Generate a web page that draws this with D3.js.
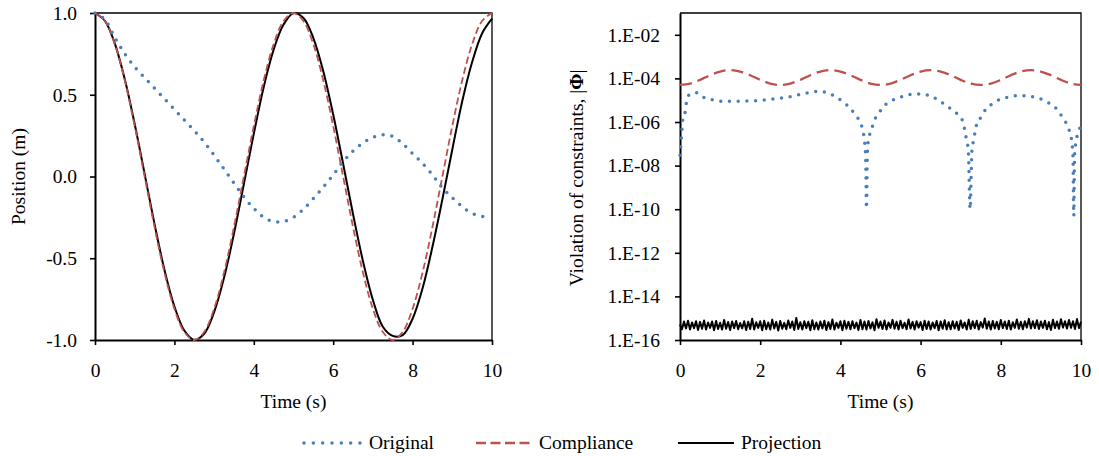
<!DOCTYPE html>
<html>
<head>
<meta charset="utf-8">
<script src="https://cdn.jsdelivr.net/npm/d3@7"></script>
<style>
  body { margin: 0; background: #fff; }
</style>
</head>
<body>
<script>
// ---- data ----
// left panel: position (m) vs time (s)
const tGrid = [0,0.25,0.5,0.75,1,1.25,1.5,1.75,2,2.25,2.5,2.75,3,3.25,3.5,3.75,4,4.25,4.5,4.75,5,
  5.25,5.5,5.75,6,6.25,6.5,6.75,7,7.25,7.5,7.75,8,8.25,8.5,8.75,9,9.25,9.5,9.75,10];

const tOrigPos = [0,0.25,0.5,0.75,1,1.25,1.5,1.75,2,2.25,2.5,2.75,3,3.25,3.5,3.75,4,4.25,4.5,4.75,5,
  5.25,5.5,5.75,6,6.25,6.5,6.75,7,7.25,7.5,7.75,8,8.25,8.5,8.75,9,9.25,9.5,9.75,9.85];
const origPos = [1.0,0.96,0.85,0.75,0.67,0.605,0.54,0.475,0.41,0.345,0.28,0.21,0.13,0.045,-0.04,-0.125,
  -0.195,-0.25,-0.275,-0.275,-0.25,-0.2,-0.135,-0.065,0.01,0.09,0.155,0.205,0.24,0.255,0.245,0.2,0.14,
  0.08,0.01,-0.07,-0.13,-0.185,-0.225,-0.243,-0.248];

const compPos = [1,0.951,0.809,0.588,0.309,0,-0.309,-0.588,-0.809,-0.951,-1,-0.951,-0.809,-0.588,-0.309,0,
  0.309,0.588,0.809,0.951,1,0.951,0.809,0.588,0.309,0,-0.309,-0.588,-0.809,-0.951,-1,-0.951,-0.809,
  -0.588,-0.309,0,0.309,0.588,0.809,0.951,1];

const projPos = [1,0.952,0.813,0.595,0.321,0.016,-0.291,-0.571,-0.794,-0.942,-0.999,-0.962,-0.83,-0.62,
  -0.35,-0.046,0.262,0.548,0.776,0.93,0.999,0.969,0.847,0.644,0.379,0.078,-0.231,-0.518,-0.755,-0.919,
  -0.975,-0.97,-0.87,-0.685,-0.43,-0.14,0.165,0.46,0.7,0.875,0.965];

// right panel: constraint violation |Phi| vs time (s)
const tOrigPhi = [0,0.04,0.07,0.13,0.17,0.26,0.42,0.61,0.78,1.05,1.44,1.87,2.26,2.7,3.09,3.4,3.57,3.75,
  3.92,4.09,4.25,4.38,4.49,4.56,4.6,4.63,4.65,4.67,4.7,4.77,4.83,4.94,5.05,5.23,5.4,5.62,5.84,6.03,6.23,
  6.45,6.62,6.8,6.93,7.04,7.1,7.14,7.19,7.235,7.28,7.32,7.36,7.4,7.52,7.62,7.8,7.97,8.19,8.41,8.61,8.82,
  9.02,9.19,9.36,9.51,9.63,9.71,9.76,9.8,9.82,9.84,9.89,9.95,10];
const origPhi = [3e-8,2.5e-7,1.4e-6,3e-6,1e-5,2e-5,2.2e-5,1.3e-5,1.07e-5,9e-6,9e-6,9.3e-6,1.1e-5,1.4e-5,
  2e-5,2.5e-5,2.4e-5,1.9e-5,1.3e-5,7.6e-6,4.2e-6,2e-6,1e-6,4e-7,1.4e-7,2.5e-8,1.1e-10,2.5e-8,1.6e-7,4e-7,
  1e-6,2.2e-6,4.6e-6,8.4e-6,1.2e-5,1.6e-5,1.9e-5,1.9e-5,1.6e-5,1e-5,5.9e-6,3.5e-6,2.2e-6,1.2e-6,4.4e-7,
  1.7e-7,5e-8,1e-10,5e-8,1.4e-7,3.7e-7,8e-7,1.8e-6,3.8e-6,7e-6,1.07e-5,1.4e-5,1.6e-5,1.6e-5,1.4e-5,
  1.1e-5,7.6e-6,4.6e-6,2e-6,9e-7,4e-7,1.7e-7,2.5e-8,5e-11,3e-8,1.7e-7,4.4e-7,6e-7];

const compPhi = [5.0e-5,5.8e-5,8.6e-5,1.4e-4,2.07e-4,2.4e-4,2.07e-4,1.4e-4,8.6e-5,5.8e-5,5.0e-5,
  5.8e-5,8.6e-5,1.4e-4,2.07e-4,2.4e-4,2.07e-4,1.4e-4,8.6e-5,5.8e-5,5.0e-5,
  5.8e-5,8.6e-5,1.4e-4,2.07e-4,2.4e-4,2.07e-4,1.4e-4,8.6e-5,5.8e-5,5.0e-5,
  5.8e-5,8.6e-5,1.4e-4,2.07e-4,2.4e-4,2.07e-4,1.4e-4,8.6e-5,5.8e-5,5.0e-5];

// projection noise, in units of 1e-16, sampled every 0.05 s
const projPhiE16 = [5.2,3.1,7.0,3.4,7.6,3.0,6.4,3.5,7.2,2.9,6.8,3.3,7.9,3.0,6.3,3.6,7.1,2.8,7.4,3.2,
  6.2,3.0,8.3,3.3,6.7,2.9,7.0,3.5,7.5,3.1,6.0,3.4,7.3,2.9,6.9,3.2,9.4,3.0,6.5,3.6,
  7.2,2.8,7.7,3.1,6.3,3.0,8.6,3.4,6.8,2.7,7.4,3.3,6.1,3.1,7.8,3.6,7.0,2.9,10.2,3.2,
  6.5,3.0,7.3,3.5,6.9,2.8,8.0,3.1,6.4,3.0,7.1,3.4,7.6,2.9,6.6,3.2,8.8,3.0,6.2,3.6,
  7.2,2.8,7.7,3.3,6.8,3.1,7.3,3.5,6.3,2.9,8.2,3.1,7.0,3.0,7.4,3.4,6.5,2.8,9.0,3.6,
  7.1,3.2,7.8,3.0,6.4,3.6,8.4,3.3,6.9,3.0,7.6,3.5,6.2,3.1,8.8,3.4,6.8,3.0,7.3,3.7,
  6.6,2.9,7.7,3.2,7.1,3.0,6.3,3.5,7.4,2.8,7.0,3.3,8.1,3.0,6.5,3.1,7.3,3.4,6.9,2.9,
  7.8,3.6,6.4,3.0,8.6,3.2,7.2,3.5,7.6,3.0,6.6,3.7,9.6,3.3,7.0,3.0,7.4,3.4,6.8,3.1,
  8.2,3.5,7.1,3.2,7.7,3.0,6.5,3.6,8.8,3.3,6.9,3.1,7.3,3.7,9.3,3.4,7.2,3.5,8.0,3.2,
  7.0,3.6,7.6,3.1,6.6,2.9,8.4,3.5,7.1,3.3,9.0,3.7,7.3,3.4,8.3,3.6,7.2,3.2,9.1,3.5,
  6.9];

const xTicks = [0, 2, 4, 6, 8, 10];
const posTicks = [-1, -0.5, 0, 0.5, 1];
const phiTicks = [1e-16, 1e-14, 1e-12, 1e-10, 1e-8, 1e-6, 1e-4, 1e-2];
const seriesNames = ['Original', 'Compliance', 'Projection'];

// ---- drawing ----
const W = 1099, H = 456;
const blue = '#4a7ebb', red = '#c0504d';
const FONT = '"Liberation Serif", "Times New Roman", serif';

const svg = d3.select('body').append('svg')
  .attr('width', W).attr('height', H)
  .attr('font-family', FONT).attr('font-size', 19.5);
svg.append('rect').attr('width', W).attr('height', H).attr('fill', '#fff');

const pair = (ts, vs) => ts.map((t, i) => [t, vs[i]]);

function frame(x, y, yTicks, yFmt, pad) {
  const [x0, x1] = x.range();
  const [y0, y1] = y.range();
  const g = svg.append('g');
  // top and right border
  g.append('path')
    .attr('d', `M${x0},${y1}H${x1}V${y0}`)
    .attr('fill', 'none').attr('stroke', '#000').attr('stroke-width', 1.3);

  const ax = g.append('g').attr('transform', `translate(0,${y0})`)
    .call(d3.axisBottom(x).tickValues(xTicks).tickSize(5).tickPadding(18).tickSizeOuter(0));
  const ay = g.append('g').attr('transform', `translate(${x0},0)`)
    .call(d3.axisLeft(y).tickValues(yTicks).tickFormat(yFmt).tickSize(5).tickPadding(pad).tickSizeOuter(0));
  [ax, ay].forEach(a => {
    a.attr('font-family', FONT).attr('font-size', 19.5);
    a.selectAll('.domain').attr('stroke-width', 2);
    a.selectAll('.tick line').attr('stroke-width', 1.6);
    a.selectAll('text').style('font-family', FONT).style('font-size', '19.5px').attr('fill', '#000');
  });
  return g;
}

// left panel
const xL = d3.scaleLinear().domain([0, 10]).range([95, 492]);
const yL = d3.scaleLinear().domain([-1, 1]).range([340, 13]);
frame(xL, yL, posTicks, d => d.toFixed(1), 13);

const lineL = d3.line().x(d => xL(d[0])).y(d => yL(d[1])).curve(d3.curveCatmullRom);

svg.append('path').datum(pair(tGrid, projPos)).attr('d', lineL)
  .attr('fill', 'none').attr('stroke', '#000').attr('stroke-width', 2);
svg.append('path').datum(pair(tGrid, compPos)).attr('d', lineL)
  .attr('fill', 'none').attr('stroke', red).attr('stroke-width', 1.8)
  .attr('stroke-dasharray', '7 3.5');
svg.append('path').datum(pair(tOrigPos, origPos)).attr('d', lineL)
  .attr('fill', 'none').attr('stroke', blue).attr('stroke-width', 3.5)
  .attr('stroke-linecap', 'round').attr('stroke-dasharray', '0 8.8');

svg.append('text').attr('x', xL(5)).attr('y', 408).attr('text-anchor', 'middle').text('Time (s)');
svg.append('text').attr('transform', `translate(25,${(yL(1) + yL(-1)) / 2}) rotate(-90)`)
  .attr('text-anchor', 'middle').text('Position (m)');

// right panel
const xR = d3.scaleLinear().domain([0, 10]).range([680, 1081]);
const yR = d3.scaleLog().domain([1e-16, 1e-1]).range([340, 13]);
const expFmt = d => '1.E-' + String(Math.round(-Math.log10(d))).padStart(2, '0');
frame(xR, yR, phiTicks, expFmt, 15);

const tNoise = projPhiE16.map((_, i) => i * 0.05);

svg.append('path').datum(projPhiE16.map((v, i) => [tNoise[i], v * 1e-16]))
  .attr('d', d3.line().x(d => xR(d[0])).y(d => yR(d[1])))
  .attr('fill', 'none').attr('stroke', '#000').attr('stroke-width', 2)
  .attr('stroke-linejoin', 'round');
svg.append('path').datum(pair(tGrid, compPhi))
  .attr('d', d3.line().x(d => xR(d[0])).y(d => yR(d[1])).curve(d3.curveCatmullRom))
  .attr('fill', 'none').attr('stroke', red).attr('stroke-width', 2.3)
  .attr('stroke-dasharray', '12 6');
svg.append('path').datum(pair(tOrigPhi, origPhi))
  .attr('d', d3.line().x(d => xR(d[0])).y(d => yR(d[1])).curve(d3.curveMonotoneX))
  .attr('fill', 'none').attr('stroke', blue).attr('stroke-width', 3.5)
  .attr('stroke-linecap', 'round').attr('stroke-dasharray', '0 8.7');

svg.append('text').attr('x', xR(5)).attr('y', 408).attr('text-anchor', 'middle').text('Time (s)');
const yl = svg.append('text').attr('transform', `translate(583,178) rotate(-90)`)
  .attr('text-anchor', 'middle');
yl.append('tspan').text('Violation of constraints, |');
yl.append('tspan').attr('font-weight', 'bold').text('\u03A6');
yl.append('tspan').text('|');

// legend
const legendItems = [
  { x: 304, stroke: blue, width: 3.5, dash: '0 9.33', cap: 'round' },
  { x: 476, stroke: red, width: 2.3, dash: '10 4.5', cap: 'butt' },
  { x: 678, stroke: '#000', width: 2.2, dash: null, cap: 'butt' }
];
const lg = svg.append('g').selectAll('g').data(legendItems).join('g')
  .attr('transform', d => `translate(${d.x},443)`);
lg.append('line').attr('x1', 0).attr('x2', 56).attr('y1', 0).attr('y2', 0)
  .attr('stroke', d => d.stroke).attr('stroke-width', d => d.width)
  .attr('stroke-dasharray', d => d.dash).attr('stroke-linecap', d => d.cap);
lg.append('text').attr('x', (d, i) => i === 0 ? 65 : 63).attr('y', 5.5)
  .text((d, i) => seriesNames[i]);
</script>
</body>
</html>
